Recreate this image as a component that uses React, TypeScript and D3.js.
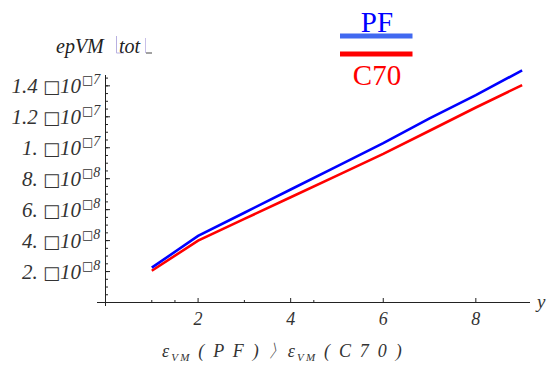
import React from "react";
import * as d3 from "d3";

const xValues = [1, 2, 3, 4, 5, 6, 7, 8, 9];
const pfValues = [2.25e-8, 4.3e-8, 5.8e-8, 7.3e-8, 8.8e-8, 10.3e-8, 11.9e-8, 13.4e-8, 15.0e-8];
const c70Values = [2.05e-8, 4.0e-8, 5.4e-8, 6.8e-8, 8.2e-8, 9.6e-8, 11.1e-8, 12.6e-8, 14.05e-8];
const xTicks = [2, 4, 6, 8];
const xMinorTicks = [1, 1.5, 3, 4.5];
const yTicks = [2e-8, 4e-8, 6e-8, 8e-8, 1e-7, 1.2e-7, 1.4e-7];
const yTickMantissa = ["2.", "4.", "6.", "8.", "1.", "1.2", "1.4"];
const yTickExp = ["8", "8", "8", "8", "7", "7", "7"];
const seriesNames = ["PF", "C70"];

export default function App() {
  const W = 548, H = 377;
  const x = d3.scaleLinear().domain([0, 9.17]).range([105.5, 530]);
  const y = d3.scaleLinear().domain([0, 1.47e-7]).range([302.5, 75]);
  const line = d3.line<number>().x((_, i) => x(xValues[i])).y((d) => y(d));
  const yMinor = d3.range(0.5e-8, 1.47e-7, 0.5e-8);
  const serif = "'Liberation Serif', 'Times New Roman', serif";
  const axisColor = "#222";
  return (
    <svg width={W} height={H} style={{ position: "absolute", left: 0, top: 0, background: "#fff" }}>
      {/* axes */}
      <line x1={x(0)} x2={x(0)} y1={y(1.47e-7)} y2={306} stroke={axisColor} strokeWidth={1} />
      <line x1={97} x2={530} y1={y(0)} y2={y(0)} stroke={axisColor} strokeWidth={1} />
      {yMinor.map((v, i) => (
        <line key={"ym" + i} x1={x(0)} x2={x(0) + 2.5} y1={y(v)} y2={y(v)} stroke={axisColor} strokeWidth={1} />
      ))}
      {yTicks.map((v, i) => (
        <line key={"yt" + i} x1={x(0)} x2={x(0) + 4.5} y1={y(v)} y2={y(v)} stroke={axisColor} strokeWidth={1} />
      ))}
      {xMinorTicks.map((v, i) => (
        <line key={"xm" + i} x1={x(v)} x2={x(v)} y1={y(0)} y2={y(0) - 2.5} stroke={axisColor} strokeWidth={1} />
      ))}
      {xTicks.map((v, i) => (
        <line key={"xt" + i} x1={x(v)} x2={x(v)} y1={y(0)} y2={y(0) - 4.5} stroke={axisColor} strokeWidth={1} />
      ))}
      {/* y tick labels */}
      {yTicks.map((v, i) => (
        <text key={"yl" + i} x={81} y={y(v) + 7} textAnchor="end" fontFamily={serif} fontStyle="italic" fontSize={21} fill="#333">
          {yTickMantissa[i] + " "}
          <tspan fontFamily="'DejaVu Sans'" fontStyle="normal" fontSize={18}>{"\u25A1"}</tspan>
          {"10"}
        </text>
      ))}
      {yTicks.map((v, i) => (
        <text key={"ye" + i} x={82} y={y(v) - 2} fontFamily={serif} fontStyle="italic" fontSize={14} fill="#333">
          <tspan fontFamily="'DejaVu Sans'" fontStyle="normal" fontSize={12}>{"\u25A1"}</tspan>
          {yTickExp[i]}
        </text>
      ))}
      {/* x tick labels */}
      {xTicks.map((v, i) => (
        <text key={"xl" + i} x={x(v)} y={325} textAnchor="middle" fontFamily={serif} fontStyle="italic" fontSize={18} fill="#333">
          {v}
        </text>
      ))}
      <text x={537} y={308} fontFamily={serif} fontStyle="italic" fontSize={19} fill="#333">y</text>
      {/* y axis title */}
      <text x={56} y={53} fontFamily={serif} fontStyle="italic" fontSize={20} fill="#222">epVM</text>
      <line x1={116.5} x2={116.5} y1={36} y2={53} stroke="#b8b0e0" strokeWidth={1} />
      <line x1={116.5} x2={124} y1={53} y2={53} stroke="#b8b0e0" strokeWidth={1} />
      <text x={119} y={53} fontFamily={serif} fontStyle="italic" fontSize={20} fill="#222">tot</text>
      <line x1={145.5} x2={145.5} y1={38} y2={53} stroke="#c8c0e8" strokeWidth={1} />
      <line x1={146} x2={152} y1={53} y2={53} stroke="#444" strokeWidth={1} />
      {/* series */}
      <path d={line(c70Values) || ""} fill="none" stroke="#ff0000" strokeWidth={2.6} />
      <path d={line(pfValues) || ""} fill="none" stroke="#0000ff" strokeWidth={2.6} />
      {/* legend */}
      <text x={377} y={32} textAnchor="middle" fontFamily={serif} fontSize={29} fill="#0000ff">{seriesNames[0]}</text>
      <line x1={340} x2={412.5} y1={36} y2={36} stroke="#4169f0" strokeWidth={5} />
      <line x1={340} x2={412.5} y1={54} y2={54} stroke="#ff0000" strokeWidth={5} />
      <text x={377} y={85} textAnchor="middle" fontFamily={serif} fontSize={29} fill="#ff0000">{seriesNames[1]}</text>
      {/* bottom label */}
      <text x={162} y={357} fontFamily={serif} fontStyle="italic" fontSize={18} fill="#333" letterSpacing={2.2}>
        <tspan>ε</tspan>
        <tspan fontSize={11} dy={4}>VM</tspan>
        <tspan dy={-4}> ( P F ) 〉ε</tspan>
        <tspan fontSize={11} dy={4}>VM</tspan>
        <tspan dy={-4}> ( C 7 0 )</tspan>
      </text>
    </svg>
  );
}
